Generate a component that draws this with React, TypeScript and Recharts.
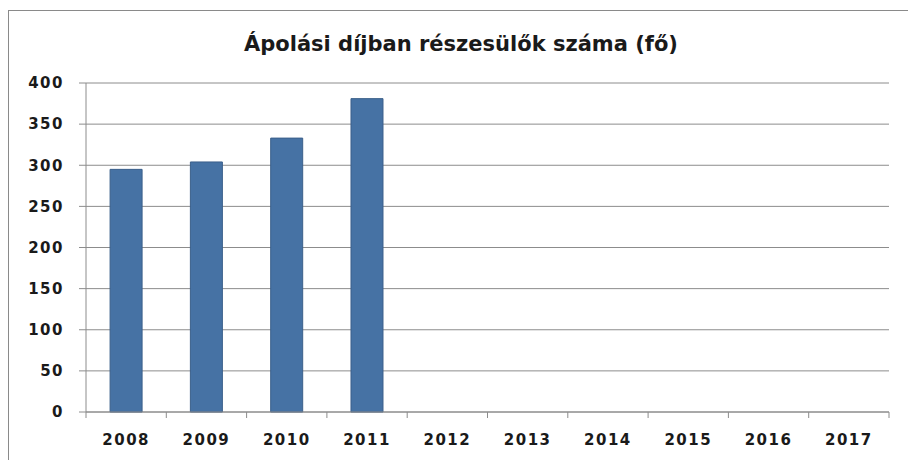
import { Bar, BarChart, CartesianGrid, XAxis, YAxis } from 'recharts';

const years = ['2008', '2009', '2010', '2011', '2012', '2013', '2014', '2015', '2016', '2017'];
const recipients: (number | null)[] = [295, 304, 333, 381, null, null, null, null, null, null];
const yTicks = [0, 50, 100, 150, 200, 250, 300, 350, 400];

const W = 908;
const H = 460;
const AXIS_W = 86;
const RIGHT = 19;
const STEP = (W - AXIS_W - RIGHT) / years.length;
const FONT = '"DejaVu Sans", Verdana, sans-serif';

function YearTick(props: any) {
  const { x, y, payload, index } = props;
  const left = x - STEP / 2;
  return (
    <g>
      <line x1={left} y1={y} x2={left} y2={y + 6} stroke="#8c8c8c" />
      {index === years.length - 1 && <line x1={x + STEP / 2} y1={y} x2={x + STEP / 2} y2={y + 6} stroke="#8c8c8c" />}
      <text x={x} y={y + 28} dy="0.35em" textAnchor="middle" fontFamily={FONT} fontWeight="bold" fontSize={15} letterSpacing={1.5} fill="#1a1a1a">
        {payload.value}
      </text>
    </g>
  );
}

export default function App() {
  const data = years.map((year, i) => ({ year, value: recipients[i] }));
  return (
    <div style={{ position: 'absolute', left: 0, top: 0, width: W, height: H, background: '#fff', overflow: 'hidden' }}>
      <div style={{ position: 'absolute', left: 8, top: 10, width: W, height: H, borderLeft: '1px solid #8a8a8a', borderTop: '1px solid #8a8a8a' }} />
      <div style={{ position: 'absolute', left: 0, top: 32, width: 922, textAlign: 'center', fontFamily: FONT, fontWeight: 'bold', fontSize: 21, color: '#1a1a1a' }}>
        Ápolási díjban részesülők száma (fő)
      </div>
      <BarChart width={W} height={H} data={data} margin={{ top: 83, right: RIGHT, bottom: 0, left: 0 }} barCategoryGap="30%">
        <CartesianGrid vertical={false} stroke="#8c8c8c" />
        <XAxis dataKey="year" height={48} axisLine={{ stroke: '#8c8c8c' }} tickLine={false} tickSize={0} tickMargin={0} tick={<YearTick />} interval={0} />
        <YAxis
          width={AXIS_W}
          domain={[0, 400]}
          ticks={yTicks}
          interval={0}
          axisLine={{ stroke: '#8c8c8c' }}
          tickLine={{ stroke: '#8c8c8c' }}
          tickSize={7}
          tickMargin={15}
          tick={{ fontFamily: FONT, fontWeight: 'bold', fontSize: 15, fill: '#1a1a1a', letterSpacing: 1.5 }}
        />
        <Bar dataKey="value" fill="#4672a4" stroke="#3b5f8a" isAnimationActive={false} />
      </BarChart>
    </div>
  );
}
